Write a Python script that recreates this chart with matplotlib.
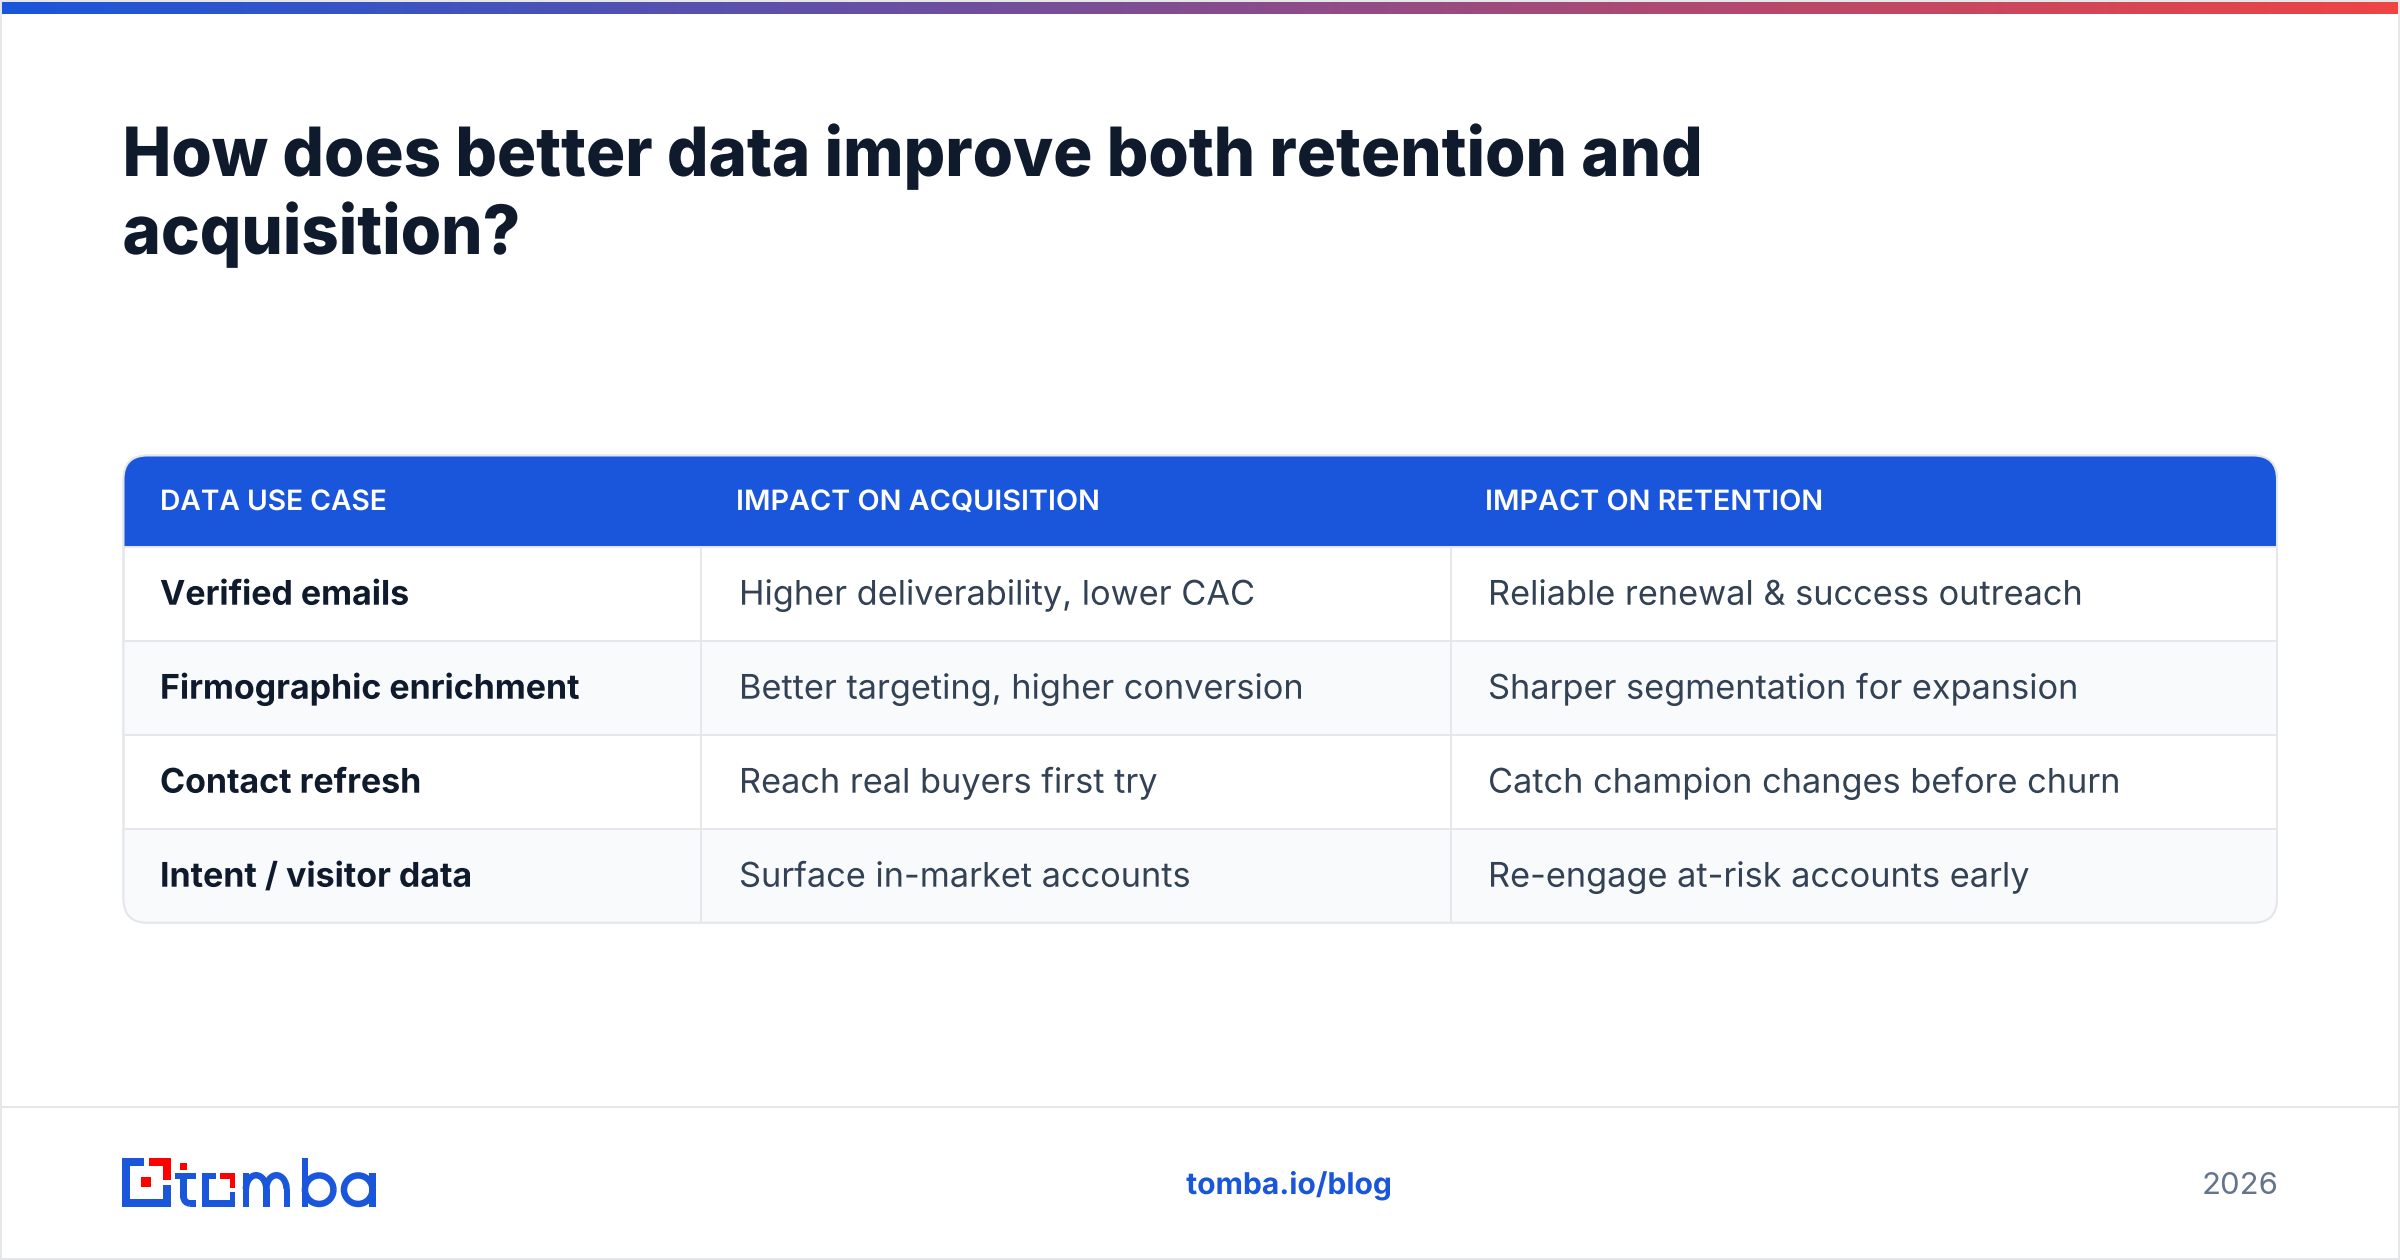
"""Slide: how better data improves retention and acquisition."""

import matplotlib
matplotlib.use("Agg")
import matplotlib.pyplot as plt
import numpy as np
from matplotlib.patches import Arc, FancyBboxPatch, Rectangle
from matplotlib.patheffects import AbstractPathEffect
from matplotlib.transforms import Affine2D

W, H = 2400, 1260
BLUE = "#1a56db"
RED = "#ff0000"
LINE = "#e5e7eb"
INK = "#0f1b2d"

title_lines = ["How does better data improve both retention and", "acquisition?"]
headers = ["DATA USE CASE", "IMPACT ON ACQUISITION", "IMPACT ON RETENTION"]
use_cases = ["Verified emails", "Firmographic enrichment", "Contact refresh", "Intent / visitor data"]
acquisition = [
    "Higher deliverability, lower CAC",
    "Better targeting, higher conversion",
    "Reach real buyers first try",
    "Surface in-market accounts",
]
retention = [
    "Reliable renewal & success outreach",
    "Sharper segmentation for expansion",
    "Catch champion changes before churn",
    "Re-engage at-risk accounts early",
]
footer_link = "tomba.io/blog"
footer_year = "2026"

plt.rcParams["font.family"] = ["Inter", "DejaVu Sans"]


class StretchX(AbstractPathEffect):
    # matplotlib has no letter-spacing, so stretch the whole string a little instead
    def __init__(self, sx=1.0):
        super().__init__()
        self.sx = sx

    def draw_path(self, renderer, gc, tpath, affine, rgbFace=None):
        renderer.draw_path(gc, tpath, Affine2D().scale(self.sx, 1) + affine, rgbFace)


def px(size):
    return size * 0.72


def rect(ax, x0, y0, x1, y1, color, zorder=5, **kw):
    ax.add_patch(Rectangle((x0, y0), x1 - x0, y1 - y0, fc=color, ec="none", zorder=zorder, **kw))


def draw_logo(ax):
    # icon
    rect(ax, 122, 1158, 144, 1165.5, BLUE)
    rect(ax, 122, 1158, 130, 1206.7, BLUE)
    rect(ax, 122, 1199, 170.7, 1206.7, BLUE)
    rect(ax, 162.7, 1184.7, 170.7, 1206.7, BLUE)
    rect(ax, 148.7, 1158, 170.7, 1165.5, RED)
    rect(ax, 162.7, 1158, 170.7, 1180, RED)
    rect(ax, 141.3, 1177.3, 151.3, 1186.7, RED)
    # t
    rect(ax, 180.3, 1163.3, 187, 1170, RED)
    rect(ax, 175.3, 1172.7, 196, 1179.3, BLUE)
    rect(ax, 180.3, 1172.7, 187, 1198, BLUE)
    rect(ax, 190, 1200, 196, 1206.7, BLUE)
    ax.add_patch(Arc((190, 1197), 12.7, 12.7, theta1=90, theta2=180, lw=px(6.7), ec=BLUE, zorder=5))
    # square o
    rect(ax, 202, 1172.7, 208.7, 1206.7, BLUE)
    rect(ax, 202, 1172.7, 216.3, 1179.3, BLUE)
    rect(ax, 220.3, 1172.7, 235.3, 1179.3, RED)
    rect(ax, 229.7, 1172.7, 235.3, 1187.7, RED)
    rect(ax, 229.7, 1191.7, 235.3, 1206.7, BLUE)
    rect(ax, 202, 1200, 235.3, 1206.7, BLUE)
    # m
    stroke = 6.5
    for x0 in (242.7, 263, 283.5):
        rect(ax, x0, 1189, x0 + stroke, 1206.7, BLUE)
    rect(ax, 242.7, 1172.7, 249.2, 1190, BLUE)
    for cx in (256.1, 276.4):
        ax.add_patch(Arc((cx, 1189), 20.3, 27.5, theta1=180, theta2=360, lw=px(stroke), ec=BLUE, zorder=5))
    # b and a
    rect(ax, 302, 1158, 308.3, 1206.7, BLUE)
    ax.add_patch(Arc((319.2, 1189.7), 28.5, 28.5, lw=px(stroke), ec=BLUE, zorder=5))
    ax.add_patch(Arc((358.2, 1189.7), 28.5, 28.5, lw=px(stroke), ec=BLUE, zorder=5))
    rect(ax, 369.2, 1172.7, 375.7, 1206.7, BLUE)


fig = plt.figure(figsize=(W / 100, H / 100), dpi=100, facecolor="white")
ax = fig.add_axes([0, 0, 1, 1])
ax.set_xlim(0, W)
ax.set_ylim(H, 0)
ax.axis("off")

# frame and gradient strip
ax.add_patch(Rectangle((1, 1), W - 2, H - 2, fc="none", ec=LINE, lw=px(2), zorder=1))
ramp = np.linspace(0, 1, 256).reshape(1, -1)
cmap = matplotlib.colors.LinearSegmentedColormap.from_list("strip", [BLUE, "#ef4444"])
ax.imshow(ramp, extent=(2, W - 2, 14, 2), cmap=cmap, aspect="auto", zorder=2)
ax.set_xlim(0, W)
ax.set_ylim(H, 0)

for i, line in enumerate(title_lines):
    ax.text(122.5, 176 + i * 78, line, fontsize=px(68), fontweight=800, color=INK, va="baseline",
            path_effects=[StretchX(0.96)])

# table
left, right, top, bottom = 123.5, 2277, 455.5, 922.7
head_bottom = 546.7
col_x = [left, 701, 1451]
row_h = (bottom - head_bottom) / len(use_cases)

outline = FancyBboxPatch((left, top), right - left, bottom - top, boxstyle="round,pad=0,rounding_size=24",
                         fc="white", ec=LINE, lw=px(2), zorder=2)
ax.add_patch(outline)

head = Rectangle((left, top), right - left, head_bottom - 1 - top, fc=BLUE, ec="none", zorder=3)
ax.add_patch(head)
head.set_clip_path(outline)

for i in range(len(use_cases)):
    y0 = head_bottom + i * row_h
    if i % 2:
        band = Rectangle((left, y0), right - left, row_h, fc="#f8fafc", ec="none", zorder=3)
        ax.add_patch(band)
        band.set_clip_path(outline)
    ax.plot([left, right], [y0, y0], color=LINE, lw=px(2), zorder=4, solid_capstyle="butt")
for x in col_x[1:]:
    ax.plot([x, x], [head_bottom, bottom], color=LINE, lw=px(2), zorder=4, solid_capstyle="butt")
# redraw outline on top so the fills do not eat it
ax.add_patch(FancyBboxPatch((left, top), right - left, bottom - top, boxstyle="round,pad=0,rounding_size=24",
                            fc="none", ec=LINE, lw=px(2), zorder=4.5))

head_x = [160, 736, 1485]
head_stretch = [1.006, 1.028, 1.028]
for x, label, sx in zip(head_x, headers, head_stretch):
    ax.text(x, 510, label, fontsize=px(28), fontweight="semibold", color="white", va="baseline", zorder=6,
            path_effects=[StretchX(sx)])

body_x = [160, 739, 1488]
for i in range(len(use_cases)):
    base = head_bottom + (i + 0.5) * row_h + 11
    ax.text(body_x[0], base, use_cases[i], fontsize=px(34), fontweight="bold", color=INK,
            va="baseline", zorder=6, path_effects=[StretchX(0.998)])
    ax.text(body_x[1], base, acquisition[i], fontsize=px(34), color="#334155", va="baseline", zorder=6,
            path_effects=[StretchX(1.009)])
    ax.text(body_x[2], base, retention[i], fontsize=px(34), color="#334155", va="baseline", zorder=6,
            path_effects=[StretchX(1.009)])

# footer
ax.plot([0, W], [1107, 1107], color=LINE, lw=px(2), zorder=1, solid_capstyle="butt")
draw_logo(ax)
ax.text(1289, 1194, footer_link, fontsize=px(30), fontweight="bold", color=BLUE, ha="center", va="baseline",
        path_effects=[StretchX()])
ax.text(2278, 1194, footer_year, fontsize=px(31), color="#64748b", ha="right", va="baseline")

fig.savefig("out.png", dpi=100)
